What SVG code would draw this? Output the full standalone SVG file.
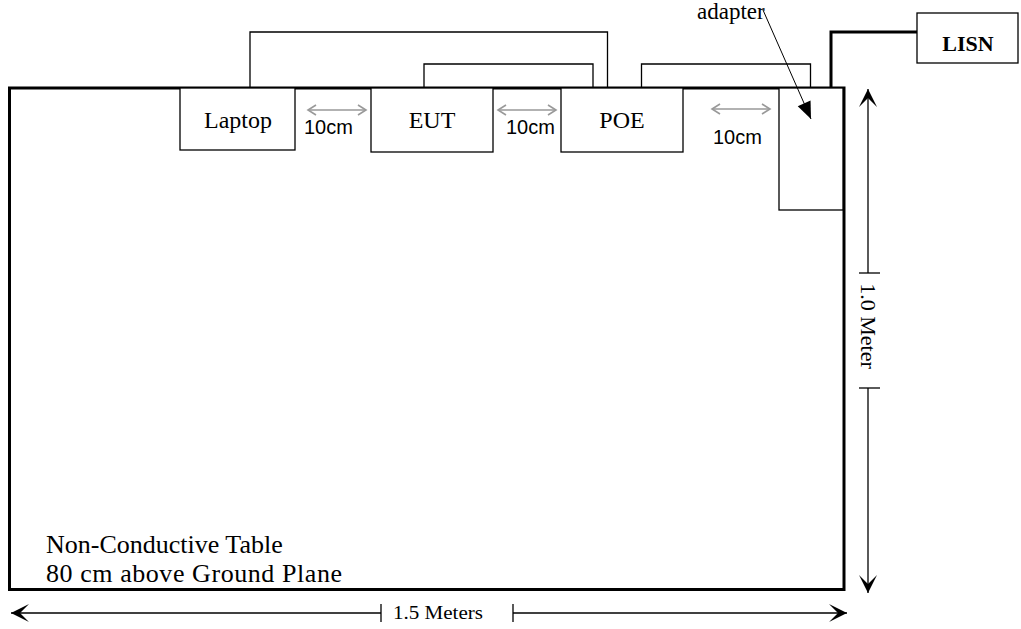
<svg xmlns="http://www.w3.org/2000/svg" width="1021" height="629" viewBox="0 0 1021 629">
<style>
.box{fill:#fff;stroke:#000;stroke-width:1.3}
.wire{fill:none;stroke:#000;stroke-width:1.3}
.serif{font-family:"Liberation Serif","Times New Roman",serif;fill:#000}
.sans{font-family:"Liberation Sans",Arial,sans-serif;fill:#000}
.gray{fill:none;stroke:#999;stroke-width:1.6;marker-start:url(#ga);marker-end:url(#ga)}
.dim{fill:none;stroke:#000;stroke-width:1.3}
</style>
<defs>
<marker id="ga" viewBox="-10 -6 12 12" markerWidth="12" markerHeight="12" refX="0" refY="0" orient="auto-start-reverse" markerUnits="userSpaceOnUse">
<polyline points="-8,-5 0,0 -8,5" fill="none" stroke="#999" stroke-width="1.6"/>
</marker>
<marker id="ch" viewBox="-20 -10 22 20" markerWidth="22" markerHeight="20" refX="0" refY="0" orient="auto-start-reverse" markerUnits="userSpaceOnUse">
<path d="M0,0 L-18,-9 L-9,0 L-18,9 Z" fill="#000"/>
</marker>
<marker id="fa" viewBox="-18 -9 20 18" markerWidth="20" markerHeight="18" refX="0" refY="0" orient="auto" markerUnits="userSpaceOnUse">
<path d="M0,0 L-17,-7 L-17,7 Z" fill="#000"/>
</marker>
</defs>

<g id="table">
<rect x="9.5" y="88" width="834.5" height="501.5" fill="#fff" stroke="#000" stroke-width="3"/>
<text class="serif" x="46" y="553" font-size="26">Non-Conductive Table</text>
<text class="serif" x="46" y="582" font-size="26" textLength="296" lengthAdjust="spacing">80 cm above Ground Plane</text>
</g>

<g id="laptop">
<rect class="box" x="180" y="88" width="115" height="62"/>
<text class="serif" x="238" y="128" font-size="24" text-anchor="middle">Laptop</text>
</g>
<g id="eut">
<rect class="box" x="371" y="88" width="122" height="64"/>
<text class="serif" x="432" y="128" font-size="24" text-anchor="middle">EUT</text>
</g>
<g id="poe">
<rect class="box" x="561" y="88" width="122" height="64"/>
<text class="serif" x="622" y="128" font-size="24" text-anchor="middle">POE</text>
</g>
<g id="adapter">
<rect class="box" x="779" y="88" width="64" height="122"/>
<text class="serif" x="697" y="19" font-size="23">adapter</text>
</g>
<g id="lisn">
<rect class="box" x="917" y="13" width="101" height="50"/>
<text class="serif" x="968" y="51" font-size="22" font-weight="bold" text-anchor="middle">LISN</text>
</g>

<g id="connectors">
<polyline class="wire" points="250,88 250,32 607.5,32 607.5,88"/>
<polyline class="wire" points="424,88 424,64 593,64 593,88"/>
<polyline class="wire" points="641.5,88 641.5,64 810.5,64 810.5,88"/>
<polyline points="831,88 831,32 917,32" fill="none" stroke="#000" stroke-width="3"/>
<line x1="763" y1="10" x2="811" y2="119" stroke="#000" stroke-width="1" marker-end="url(#fa)"/>
</g>

<g id="spacing">
<line class="gray" x1="308" y1="110" x2="366" y2="110"/>
<text class="sans" x="304" y="134" font-size="20">10cm</text>
<line class="gray" x1="498" y1="110" x2="556" y2="110"/>
<text class="sans" x="506" y="134" font-size="20">10cm</text>
<line class="gray" x1="712" y1="109" x2="770" y2="109"/>
<text class="sans" x="713" y="144" font-size="20">10cm</text>
</g>

<g id="dimensions">
<line class="dim" x1="868" y1="273" x2="868" y2="89" marker-end="url(#ch)"/>
<line class="dim" x1="868" y1="388" x2="868" y2="593" marker-end="url(#ch)"/>
<line class="dim" x1="859" y1="273" x2="880" y2="273"/>
<line class="dim" x1="859" y1="388" x2="880" y2="388"/>
<text class="serif" x="0" y="0" font-size="22" text-anchor="middle" transform="translate(861,326) rotate(90)">1.0 Meter</text>
<line class="dim" x1="381" y1="613" x2="11" y2="613" marker-end="url(#ch)"/>
<line class="dim" x1="513" y1="613" x2="847" y2="613" marker-end="url(#ch)"/>
<line class="dim" x1="381" y1="604" x2="381" y2="622"/>
<line class="dim" x1="513" y1="604" x2="513" y2="622"/>
<text class="serif" x="438" y="619" font-size="19" text-anchor="middle" textLength="90" lengthAdjust="spacingAndGlyphs">1.5 Meters</text>
</g>
</svg>
